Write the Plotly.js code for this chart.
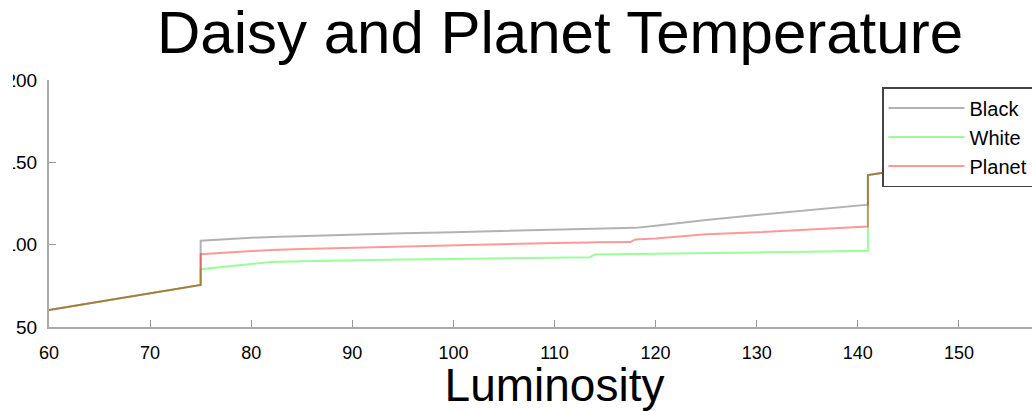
<!DOCTYPE html>
<html>
<head>
<meta charset="utf-8">
<script src="https://cdn.plot.ly/plotly-3.0.1.min.js"></script>
<style>
html, body { margin: 0; padding: 0; background: #fff; overflow: hidden; width: 1032px; height: 411px; }
#chart { position: absolute; left: 0; top: 0; width: 1100px; height: 411px; }
#mask { position: absolute; left: 0; top: 60px; width: 13px; height: 250px; background: #fff; }
</style>
</head>
<body>
<div id="chart"></div>
<div id="mask"></div>
<script>
const luminosity = [60, 65, 70, 75, 75, 78, 80, 82, 85, 90, 95, 100, 105, 110, 113.5, 114, 117.5, 118, 120, 125, 130, 135, 141, 141, 142.5, 150, 160];
const blackTemp  = [60.3, 65.3, 70.4, 75.5, 102.4, 103.6, 104.2, 104.7, 105.3, 106.3, 106.9, 107.6, 108.4, 109.2, 109.6, 109.7, 110, 110.2, 111.5, 115, 118, 121, 124.3, 142.3, 143.7, 145, 147];
const whiteTemp  = [60.3, 65.3, 70.4, 75.5, 85.1, 87, 88.5, 89.5, 90, 90.7, 91, 91.3, 91.7, 92.1, 92.4, 94, 94.2, 94.3, 94.5, 95, 95.3, 95.7, 96.3, 142.3, 143.7, 145, 147];
const planetTemp = [60.3, 65.3, 70.4, 75.5, 94.2, 95.3, 96, 96.8, 97.4, 98.2, 99, 99.7, 100.4, 101, 101.3, 101.4, 101.6, 103.2, 103.8, 106.3, 107.5, 109, 111, 142.3, 143.7, 145, 147];
const seriesNames = ['Black', 'White', 'Planet'];
const xTicks = [60, 70, 80, 90, 100, 110, 120, 130, 140, 150, 160];
const yTicks = [50, 100, 150, 200];

const colors = ['rgba(0,0,0,0.3)', 'rgba(0,255,0,0.4)', 'rgba(255,0,0,0.4)'];
const ys = [blackTemp, whiteTemp, planetTemp];
const font = 'Liberation Sans, Arial, Helvetica, sans-serif';

const traces = ys.map((y, i) => ({
  x: luminosity, y: y, type: 'scatter', mode: 'lines',
  name: seriesNames[i], legendgroup: 'g' + i,
  line: { color: colors[i], width: 2 }
}));

const layout = {
  width: 1100, height: 411,
  margin: { l: 49, r: 40, t: 80, b: 84 },
  paper_bgcolor: '#fff', plot_bgcolor: '#fff',
  font: { family: font, color: '#000' },
  title: {
    text: 'Daisy and Planet Temperature',
    font: { family: font, size: 60, color: '#000' },
    xref: 'container', x: 560 / 1100, xanchor: 'center',
    yref: 'container', y: 0.973, yanchor: 'top'
  },
  xaxis: {
    range: [60, 160], tickvals: xTicks, ticktext: xTicks.map(String),
    ticks: 'inside', ticklen: 7, tickwidth: 1, tickcolor: '#999',
    showline: true, linecolor: '#aaa', linewidth: 2, mirror: false,
    showgrid: false, zeroline: false,
    tickfont: { family: font, size: 18, color: '#000' },
    ticklabelstandoff: 8,
    title: { text: 'Luminosity', font: { family: font, size: 46, color: '#000' }, standoff: 5 }
  },
  yaxis: {
    range: [50, 200], tickvals: yTicks, ticktext: yTicks.map(String),
    ticks: 'inside', ticklen: 7, tickwidth: 1, tickcolor: '#999',
    showline: true, linecolor: '#aaa', linewidth: 2, mirror: false,
    showgrid: false, zeroline: false,
    tickfont: { family: font, size: 19, color: '#000' },
    ticklabelstandoff: 6
  },
  showlegend: true,
  legend: {
    x: (882 - 49) / 1011, xanchor: 'left', y: (327 - 87) / 247, yanchor: 'top',
    bgcolor: '#fff', bordercolor: '#444', borderwidth: 1.5,
    font: { family: font, size: 20, color: '#000' },
    traceorder: 'grouped', tracegroupgap: 0, itemwidth: 76
  }
};

Plotly.newPlot('chart', traces, layout, { displayModeBar: false, staticPlot: true });
</script>
</body>
</html>
